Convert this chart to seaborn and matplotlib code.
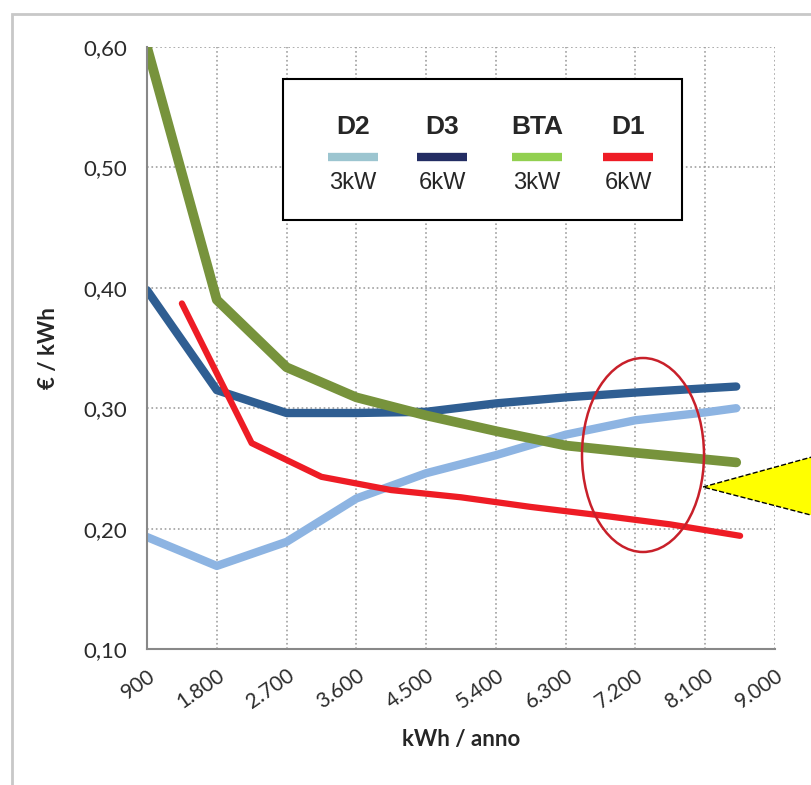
import matplotlib
matplotlib.use('Agg')
import matplotlib.pyplot as plt
import matplotlib.patches as mpatches
import seaborn as sns
import pandas as pd

# Data
kwh = [900, 1800, 2700, 3600, 4500, 5400, 6300, 7200, 8100, 8500]
d2 = [0.193, 0.169, 0.189, 0.225, 0.246, 0.261, 0.278, 0.290, 0.2965, 0.300]
d3 = [0.398, 0.315, 0.296, 0.296, 0.297, 0.304, 0.309, 0.313, 0.3165, 0.318]
bta = [0.600, 0.390, 0.334, 0.309, 0.294, 0.281, 0.269, 0.263, 0.2575, 0.255]
kwh_d1 = [1350, 2250, 3150, 4050, 4950, 5850, 6750, 7650, 8550]
d1 = [0.387, 0.271, 0.243, 0.232, 0.226, 0.218, 0.211, 0.2035, 0.194]

x_ticks = [900, 1800, 2700, 3600, 4500, 5400, 6300, 7200, 8100, 9000]
x_labels = ['900', '1.800', '2.700', '3.600', '4.500', '5.400', '6.300', '7.200', '8.100', '9.000']
y_ticks = [0.10, 0.20, 0.30, 0.40, 0.50, 0.60]
y_labels = ['0,10', '0,20', '0,30', '0,40', '0,50', '0,60']

leg_names = ['D2', 'D3', 'BTA', 'D1']
leg_power = ['3kW', '6kW', '3kW', '6kW']
leg_colors = ['#9cc5d0', '#232d63', '#92d050', '#ee1c25']

sns.set_theme(style='white')
plt.rcParams['font.family'] = ['Lato', 'DejaVu Sans']

W, H = 811, 785
fig = plt.figure(figsize=(W / 100, H / 100), dpi=100)


def fx(px):
    return px / W


def fy(py):
    return 1 - py / H


ax = fig.add_axes([fx(147), fy(649), fx(775) - fx(147), fy(47) - fy(649)])

df = pd.DataFrame({'kwh': kwh, 'D2': d2, 'D3': d3, 'BTA': bta})
df_d1 = pd.DataFrame({'kwh': kwh_d1, 'D1': d1})

line_kw = dict(solid_capstyle='round', solid_joinstyle='round')
sns.lineplot(data=df, x='kwh', y='D2', ax=ax, color='#8db4e2', linewidth=6, **line_kw)
sns.lineplot(data=df, x='kwh', y='D3', ax=ax, color='#2f5e92', linewidth=6, **line_kw)
sns.lineplot(data=df, x='kwh', y='BTA', ax=ax, color='#77933c', linewidth=7, **line_kw)
sns.lineplot(data=df_d1, x='kwh', y='D1', ax=ax, color='#ee1c25', linewidth=4.5, **line_kw)

ax.set_xlim(900, 9000)
ax.set_ylim(0.10, 0.60)
ax.set_xticks(x_ticks)
ax.set_xticklabels(x_labels, rotation=35, ha='right', rotation_mode='anchor', fontsize=15, color='#2b2b2b')
ax.set_yticks(y_ticks)
ax.set_yticklabels(y_labels, fontsize=16, color='#2b2b2b')
ax.tick_params(axis='both', direction='out', length=6, width=1.2, color='#888888', pad=6)
ax.tick_params(axis='y', pad=8)

ax.grid(True, linestyle=':', color='#a0a0a0', linewidth=1.2)
for side in ['top', 'right']:
    ax.spines[side].set_visible(False)
for side in ['left', 'bottom']:
    ax.spines[side].set_color('#888888')
    ax.spines[side].set_linewidth(1.5)

ax.set_xlabel('kWh / anno', fontsize=16, fontweight='bold', labelpad=12)
ax.set_ylabel('€ / kWh', fontsize=16, fontweight='bold', labelpad=18)

# legend box drawn by hand
fig.patches.append(mpatches.Rectangle((fx(283), fy(220)), fx(682) - fx(283), fy(79) - fy(220),
                                      transform=fig.transFigure, facecolor='white',
                                      edgecolor='black', linewidth=1.5, zorder=5))
leg_x = [353, 442, 537, 628]
for cx, name, pw, col in zip(leg_x, leg_names, leg_power, leg_colors):
    fig.text(fx(cx), fy(127), name, ha='center', va='center', fontsize=19,
             fontweight='bold', family=['Liberation Sans', 'DejaVu Sans'], zorder=6)
    fig.lines.append(plt.Line2D([fx(cx - 25), fx(cx + 25)], [fy(157), fy(157)],
                                transform=fig.transFigure, color=col, linewidth=6,
                                solid_capstyle='butt', zorder=6))
    fig.text(fx(cx), fy(183), pw, ha='center', va='center', fontsize=17,
             family=['Liberation Sans', 'DejaVu Sans'], zorder=6)

# red ellipse
fig.patches.append(mpatches.Ellipse((fx(643), fy(455)), 122 / W, 194 / H,
                                    transform=fig.transFigure, fill=False,
                                    edgecolor='#c8202a', linewidth=1.8, zorder=7))
# yellow arrow tip
fig.patches.append(mpatches.Polygon([(fx(703), fy(487)), (fx(830), fy(452)), (fx(830), fy(520))],
                                    closed=True, transform=fig.transFigure, facecolor='#ffff00',
                                    edgecolor='black', linestyle='--', linewidth=1, zorder=7))
# outer frame
fig.patches.append(mpatches.Rectangle((fx(12), fy(800)), fx(820) - fx(12), fy(14) - fy(800),
                                      transform=fig.transFigure, fill=False,
                                      edgecolor='#c8c8c8', linewidth=2, zorder=1))

fig.savefig('out.png', dpi=100)
